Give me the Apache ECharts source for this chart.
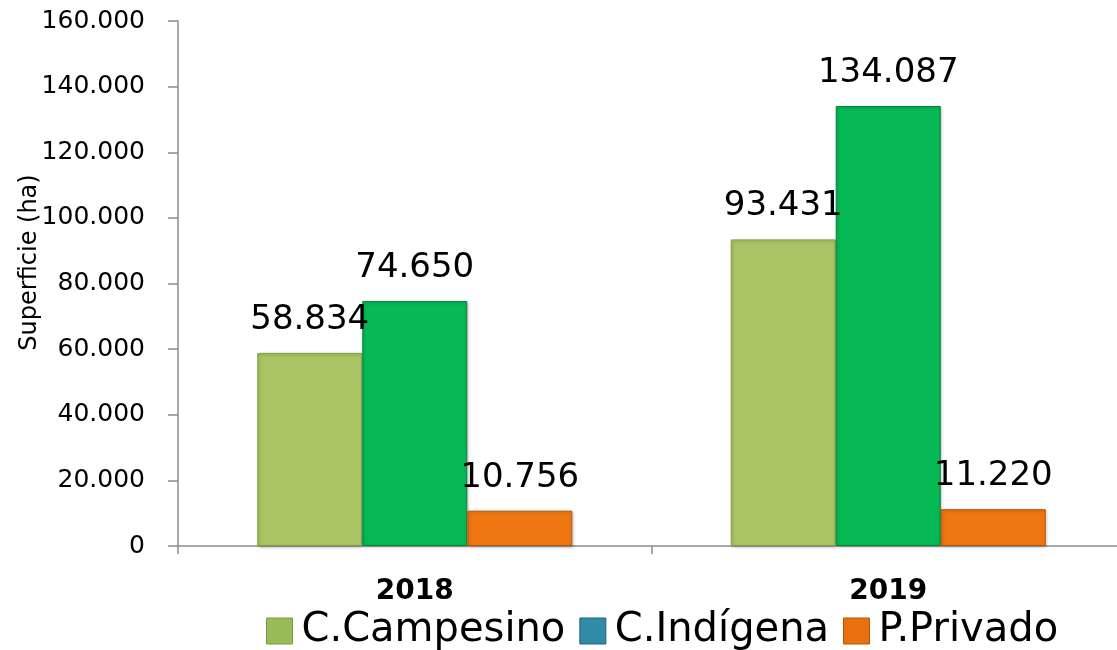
<!DOCTYPE html>
<html>
<head>
<meta charset="utf-8">
<script src="https://cdn.jsdelivr.net/npm/echarts@6/dist/echarts.min.js"></script>
<style>
  html, body { margin: 0; padding: 0; background: #fff; }
  #chart { width: 1117px; height: 650px; }
</style>
</head>
<body>
<div id="chart"></div>
<script>
// datos
const years = ['2018', '2019'];
const campesino = [58834, 93431];
const indigena = [74650, 134087];
const privado = [10756, 11220];
const seriesNames = ['C.Campesino', 'C.Indígena', 'P.Privado'];

const font = 'DejaVu Sans, sans-serif';

// 58834 -> "58.834"
const fmt = v => String(v).replace(/\B(?=(\d{3})+(?!\d))/g, '.');

const chart = echarts.init(document.getElementById('chart'));

const barLabel = {
  show: true,
  position: 'top',
  distance: 16,
  color: '#000',
  fontFamily: font,
  fontSize: 34,
  formatter: p => fmt(p.value)
};

const makeBar = (name, data, color, border) => ({
  name: name,
  type: 'bar',
  data: data,
  barWidth: 105,
  barGap: '0%',
  itemStyle: {
    color: color,
    borderColor: border,
    borderWidth: 1,
    shadowColor: 'rgba(0,0,0,0.25)',
    shadowBlur: 3,
    shadowOffsetX: 1,
    shadowOffsetY: 1
  },
  label: barLabel
});

const option = {
  backgroundColor: '#fff',
  animation: false,
  grid: {
    left: 178,
    right: -8,
    top: 21,
    bottom: 104,
    outerBoundsMode: 'none'
  },
  legend: {
    bottom: -6,
    left: 261,
    icon: 'rect',
    itemWidth: 26,
    itemHeight: 26,
    itemGap: 14,
    textStyle: { fontFamily: font, fontSize: 40, color: '#000', padding: [0, 0, 0, 4] },
    data: [
      { name: seriesNames[0], itemStyle: { color: '#9bbb59', borderColor: '#7a9a3e', borderWidth: 1 } },
      { name: seriesNames[1], itemStyle: { color: '#2f8ba6', borderColor: '#1f6478', borderWidth: 1 } },
      { name: seriesNames[2], itemStyle: { color: '#e8700f', borderColor: '#b0540a', borderWidth: 1 } }
    ]
  },
  xAxis: {
    type: 'category',
    data: years,
    axisLine: { lineStyle: { color: '#8c8c8c', width: 1.5 } },
    axisTick: { show: true, length: 8, lineStyle: { color: '#8c8c8c', width: 1.5 } },
    axisLabel: {
      margin: 32,
      color: '#000',
      fontFamily: font,
      fontWeight: 'bold',
      fontSize: 28
    }
  },
  yAxis: {
    type: 'value',
    min: 0,
    max: 160000,
    interval: 20000,
    name: 'Superficie (ha)',
    nameLocation: 'middle',
    nameGap: 136,
    nameMoveOverlap: false,
    nameTextStyle: { fontFamily: font, fontSize: 24, color: '#000', padding: [0, 0, 0, 42] },
    splitLine: { show: false },
    axisLine: { show: true, lineStyle: { color: '#8c8c8c', width: 1.5 } },
    axisTick: { show: true, length: 10, lineStyle: { color: '#8c8c8c', width: 1.5 } },
    axisLabel: {
      margin: 33,
      color: '#000',
      fontFamily: font,
      fontSize: 25,
      formatter: v => fmt(v)
    }
  },
  series: [
    makeBar(seriesNames[0], campesino, '#a8c464', '#86a044'),
    makeBar(seriesNames[1], indigena, '#06b955', '#04853c'),
    makeBar(seriesNames[2], privado, '#ef7613', '#b8570a')
  ]
};

chart.setOption(option);
</script>
</body>
</html>
